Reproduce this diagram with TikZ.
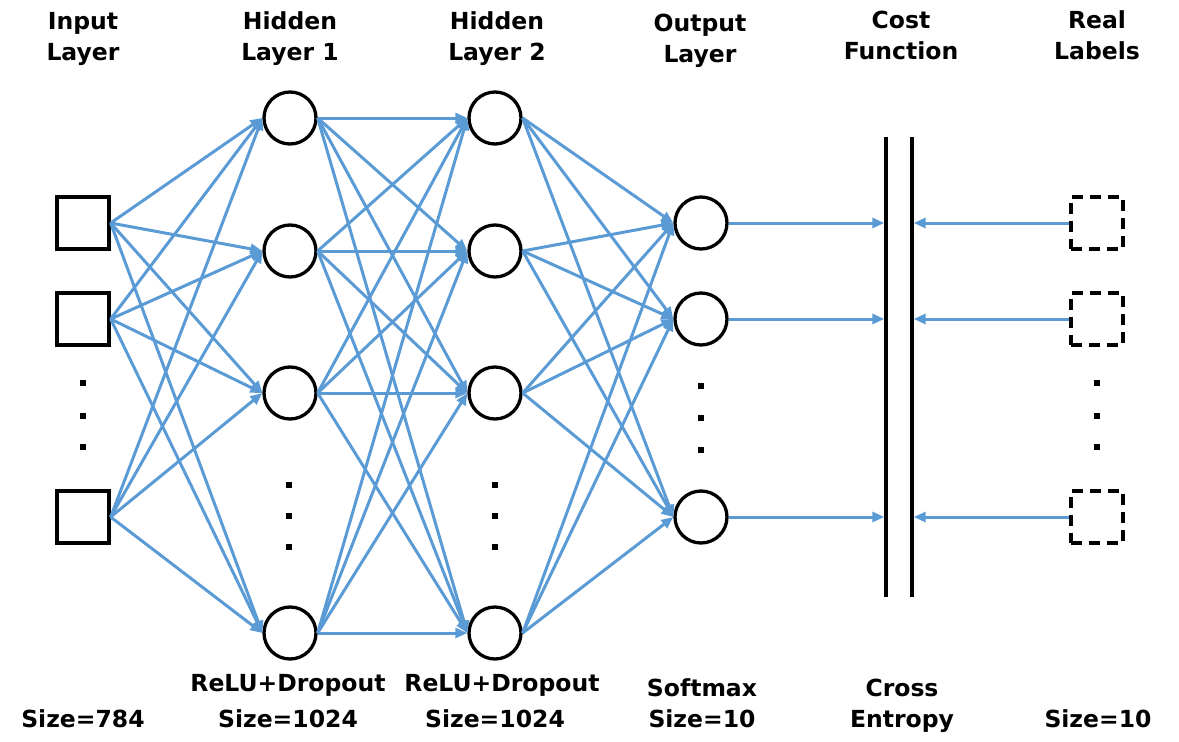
\documentclass[tikz,border=0pt]{standalone}
\usepackage{fontspec}
\setmainfont{DejaVu Sans}
\usetikzlibrary{arrows.meta}
\definecolor{conn}{RGB}{91,155,213}
\begin{document}
\begin{tikzpicture}[x=1pt,y=-1pt,
  neuron/.style={circle,draw,line width=3.3pt,minimum size=52pt,inner sep=0pt},
  inbox/.style={rectangle,draw,line width=3.3pt,minimum size=52pt,inner sep=0pt},
  lblbox/.style={rectangle,draw,line width=3.3pt,dash pattern=on 11pt off 7pt,minimum size=52pt,inner sep=0pt},
  link/.style={conn,line width=3pt,-{Triangle[length=12pt,width=10pt]}},
  lbl/.style={font=\bfseries\fontsize{23.5}{31}\selectfont,align=center,anchor=base,inner sep=0pt},
  dotm/.style={fill,minimum size=5.5pt,inner sep=0pt},
  costline/.style={line width=3.3pt}
]
\useasboundingbox (0,0) rectangle (1179,742);

% input layer
\node[inbox] (i1) at (83,223) {};
\node[inbox] (i2) at (83,319) {};
\node[inbox] (i3) at (83,517) {};
% hidden layers
\foreach \n/\y in {1/118,2/251,3/393,4/633}{
  \node[neuron] (a\n) at (290,\y) {};
  \node[neuron] (b\n) at (495,\y) {};
}
% output layer
\node[neuron] (o1) at (701,223) {};
\node[neuron] (o2) at (701,319) {};
\node[neuron] (o3) at (701,517) {};
% real labels
\node[lblbox] (r1) at (1097,223) {};
\node[lblbox] (r2) at (1097,319) {};
\node[lblbox] (r3) at (1097,517) {};

% cost function bars
\coordinate (cLt) at (886,137); \coordinate (cLb) at (886,597);
\coordinate (cRt) at (912,137); \coordinate (cRb) at (912,597);
\draw[costline] (cLt) -- (cLb);
\draw[costline] (cRt) -- (cRb);
\foreach \n/\y in {1/223,2/319,3/517}{
  \coordinate (cl\n) at (884.3,\y);
  \coordinate (cr\n) at (913.7,\y);
}

% dots
\foreach \y in {383,416,447}{
  \node[dotm] (di\y) at (83,\y) {};
  \node[dotm] (dr\y) at (1097,\y) {};
}
\foreach \y in {485,516,547}{
  \node[dotm] (da\y) at (289,\y) {};
  \node[dotm] (db\y) at (495,\y) {};
}
\foreach \y in {386,418,450}{
  \node[dotm] (do\y) at (701,\y) {};
}

% connections
\foreach \s in {1,2,3}{\foreach \t in {1,2,3,4}{\draw[link] (i\s.east) -- (a\t.west);}}
\foreach \s in {1,2,3,4}{\foreach \t in {1,2,3,4}{\draw[link] (a\s.east) -- (b\t.west);}}
\foreach \s in {1,2,3,4}{\foreach \t in {1,2,3}{\draw[link] (b\s.east) -- (o\t.west);}}
\foreach \n in {1,2,3}{
  \draw[link] (o\n.east) -- (cl\n);
  \draw[link] (r\n.west) -- (cr\n);
}

% titles (base = last line)
\node[lbl] (t1) at (83,60) {Input\\Layer};
\node[lbl] (t2) at (290,60) {Hidden\\Layer 1};
\node[lbl] (t3) at (497,60) {Hidden\\Layer 2};
\node[lbl] (t4) at (700,62) {Output\\Layer};
\node[lbl] (t5) at (901,59) {Cost\\Function};
\node[lbl] (t6) at (1097,59) {Real\\Labels};

% bottom labels
\node[lbl] (s1) at (83,727) {Size=784};
\node[lbl] (s2a) at (288,691) {ReLU+Dropout};
\node[lbl] (s2b) at (288,727) {Size=1024};
\node[lbl] (s3a) at (502,691) {ReLU+Dropout};
\node[lbl] (s3b) at (495,727) {Size=1024};
\node[lbl] (s4) at (702,727) {Softmax\\Size=10};
\node[lbl] (s5) at (902,727) {Cross\\Entropy};
\node[lbl] (s6) at (1098,727) {Size=10};
\end{tikzpicture}
\end{document}
